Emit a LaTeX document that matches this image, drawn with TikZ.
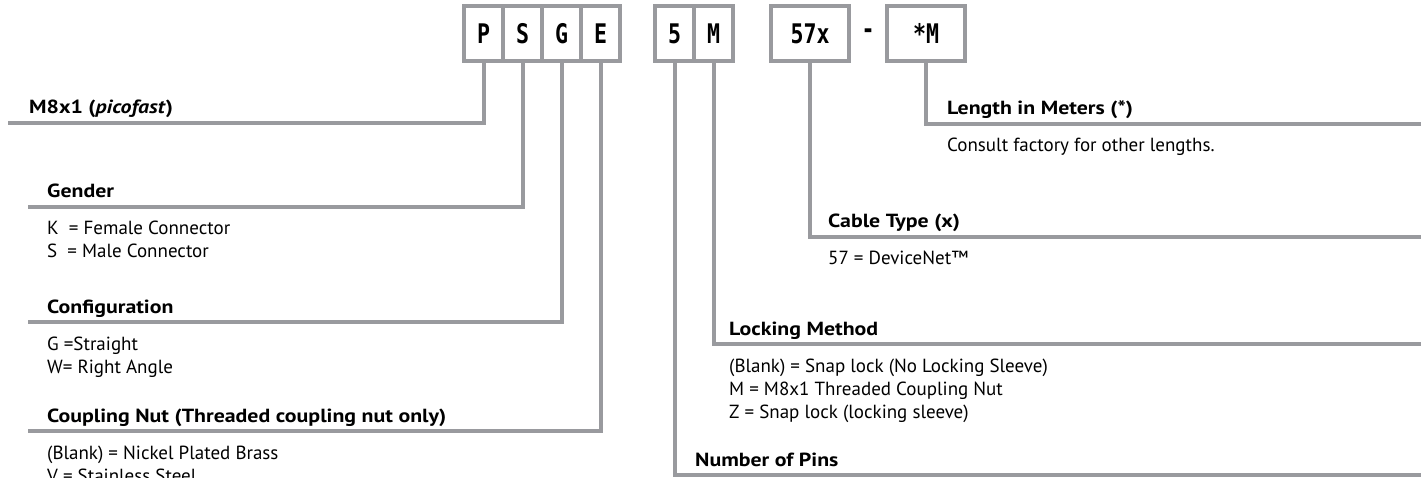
\documentclass[tikz,border=0pt]{standalone}
\usepackage{fontspec}
\setmainfont{PT Sans}[BoldFeatures={FakeStretch=1.15},BoldItalicFeatures={FakeStretch=1.15}]
\newfontfamily\codefont[FakeStretch=0.8]{DejaVu Sans Mono}
\usetikzlibrary{positioning}
\definecolor{rulegray}{RGB}{153,154,158}

\begin{document}
\begin{tikzpicture}[x=1pt,y=-1pt,
    cell/.style={draw=rulegray,line width=4pt,outer sep=0pt,inner sep=0pt,
      minimum width=39pt,minimum height=55pt,
      font=\codefont\bfseries\fontsize{27}{27}\selectfont},
    widecell/.style={cell,minimum width=78pt},
    wire/.style={draw=rulegray,line width=4pt},
    head/.style={anchor=base west,inner sep=0pt,font=\bfseries\fontsize{19}{23}\selectfont},
    % multi-line notes sit on the baseline of their last line
    note/.style={anchor=base west,inner sep=0pt,align=left,font=\fontsize{19}{23}\selectfont}]
    \useasboundingbox (0,0) rectangle (1421,478);

    % Part number boxes
    \node[cell] (cP) at (483.5,33.5) {P};
    \node[cell,right=0pt of cP] (cS) {S};
    \node[cell,right=0pt of cS] (cG) {G};
    \node[cell,right=0pt of cG] (cE) {E};
    \node[cell] (cPins) at (674.5,33.5) {5};
    \node[cell,right=0pt of cPins] (cLock) {M};
    \node[widecell] (cCable) at (810,33.5) {57x};
    \node[font=\codefont\bfseries\fontsize{27}{27}\selectfont] (dash) at (868,33.5) {-};
    \node[widecell] (cLen) at (926,33.5) {*M};

    % Left branches
    \coordinate (eBase) at (8,123);
    \draw[wire] (cP.south) |- (eBase);
    \node[head] (hBase) at (29,114) {M8x1 (\textit{picofast})};

    \coordinate (eGender) at (28,207);
    \draw[wire] (cS.south) |- (eGender);
    \node[head] (hGender) at (47,198) {Gender};
    \node[note] (nGender) at (47,258) {K\ \ = Female Connector\\S\ \ = Male Connector};

    \coordinate (eConf) at (28,322);
    \draw[wire] (cG.south) |- (eConf);
    \node[head] (hConf) at (47,313) {Configuration};
    \node[note] (nConf) at (47,373) {G\ =Straight\\W= Right Angle};

    \coordinate (eNut) at (28,431);
    \draw[wire] (cE.south) |- (eNut);
    \node[head] (hNut) at (47,422) {Coupling Nut (Threaded coupling nut only)};
    \node[note] (nNut) at (47,482) {(Blank) = Nickel Plated Brass\\V = Stainless Steel};

    % Right branches
    \coordinate (eLen) at (1425,124);
    \draw[wire] (cLen.south) |- (eLen);
    \node[head] (hLen) at (947,115) {Length in Meters (*)};
    \node[note] (nLen) at (947,152) {Consult factory for other lengths.};

    \coordinate (eCable) at (1425,237);
    \draw[wire] (cCable.south) |- (eCable);
    \node[head] (hCable) at (828,228) {Cable Type (x)};
    \node[note] (nCable) at (828,265) {57 = DeviceNet™};

    \coordinate (eLock) at (1425,344);
    \draw[wire] (cLock.south) |- (eLock);
    \node[head] (hLock) at (729,335) {Locking Method};
    \node[note] (nLock) at (729,418) {(Blank) = Snap lock (No Locking Sleeve)\\M = M8x1 Threaded Coupling Nut\\Z = Snap lock (locking sleeve)};

    \coordinate (ePins) at (1425,475);
    \draw[wire] (cPins.south) |- (ePins);
    \node[head] (hPins) at (695,466) {Number of Pins};
\end{tikzpicture}
\end{document}
